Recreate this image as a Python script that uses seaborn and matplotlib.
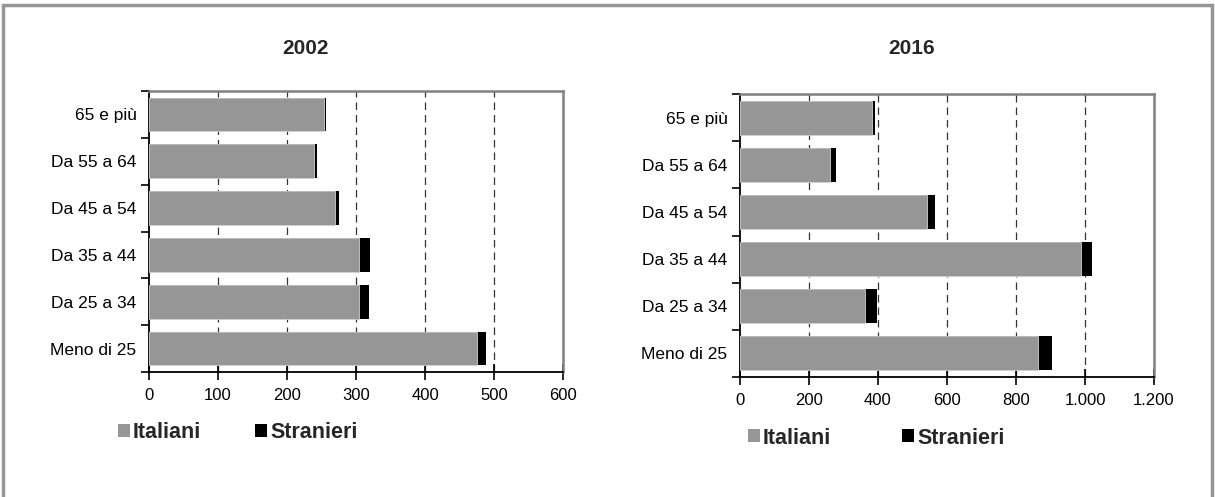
import matplotlib
matplotlib.use("Agg")
import matplotlib.pyplot as plt
import seaborn as sns
import pandas as pd
from matplotlib.patches import Patch, Rectangle
from matplotlib.ticker import FuncFormatter, FixedLocator

# age classes, top to bottom as drawn
classi = ["65 e più", "Da 55 a 64", "Da 45 a 54", "Da 35 a 44", "Da 25 a 34", "Meno di 25"]

italiani_2002 = [253, 239, 269, 304, 304, 475]
stranieri_2002 = [4, 5, 6, 17, 15, 13]

italiani_2016 = [383, 260, 541, 988, 362, 865]
stranieri_2016 = [8, 18, 24, 33, 36, 38]

xticks_2002 = [0, 100, 200, 300, 400, 500, 600]
xticks_2016 = [0, 200, 400, 600, 800, 1000, 1200]

GRIGIO = "#969696"
NERO = "#000000"

sns.set_theme(style="white")
plt.rcParams["font.family"] = ["Liberation Sans", "DejaVu Sans"]

fig = plt.figure(figsize=(12.15, 4.97), dpi=100)
W, H = 1215, 497


def fig_box(x0, y0, x1, y1):
    # pixel box -> figure fraction [left, bottom, width, height]
    return [x0 / W, 1 - y1 / H, (x1 - x0) / W, (y1 - y0) / H]


def draw_panel(ax, italiani, stranieri, ticks, fmt):
    df = pd.DataFrame({
        "classe": classi,
        "italiani": italiani,
        "totale": [a + b for a, b in zip(italiani, stranieri)],
    })
    ax.set_axisbelow(True)
    for t in ticks[1:-1]:
        ax.axvline(t, color="#333333", lw=0.9, ls=(0, (6, 4)), zorder=0)
    sns.barplot(data=df, y="classe", x="totale", color=NERO, width=0.72,
                saturation=1, order=classi, ax=ax, zorder=2, linewidth=0)
    sns.barplot(data=df, y="classe", x="italiani", color=GRIGIO, width=0.72,
                saturation=1, order=classi, ax=ax, zorder=3,
                edgecolor="#d0d0d0", linewidth=0.6)
    ax.set_xlim(ticks[0], ticks[-1])
    ax.set_ylim(len(classi) - 0.5, -0.5)
    ax.set_xticks(ticks)
    ax.xaxis.set_major_formatter(FuncFormatter(fmt))
    ax.set_xlabel("")
    ax.set_ylabel("")
    ax.yaxis.set_minor_locator(FixedLocator([i - 0.5 for i in range(len(classi) + 1)]))
    ax.tick_params(axis="y", which="major", length=0, pad=9, labelsize=12.5, colors="black")
    ax.tick_params(axis="y", which="minor", left=True, length=6, width=1.2, color="black")
    ax.tick_params(axis="x", which="major", bottom=True, direction="inout", length=11,
                   width=1.2, color="black", labelsize=12, pad=6, labelcolor="black")
    for side in ["left", "bottom"]:
        ax.spines[side].set_color("black")
        ax.spines[side].set_linewidth(1.3)
    for side in ["top", "right"]:
        ax.spines[side].set_visible(True)
        ax.spines[side].set_color("#808080")
        ax.spines[side].set_linewidth(1.8)
    ax.grid(False)


def fmt_2002(v, pos):
    return f"{int(v)}"


def fmt_2016(v, pos):
    return f"{int(v):,}".replace(",", ".")


ax1 = fig.add_axes(fig_box(149, 91, 563, 372))
draw_panel(ax1, italiani_2002, stranieri_2002, xticks_2002, fmt_2002)

ax2 = fig.add_axes(fig_box(740, 94, 1154, 377))
draw_panel(ax2, italiani_2016, stranieri_2016, xticks_2016, fmt_2016)

fig.text(306 / W, 1 - 49 / H, "2002", ha="center", va="center", fontsize=15, fontweight="bold")
fig.text(912 / W, 1 - 49 / H, "2016", ha="center", va="center", fontsize=15, fontweight="bold")

handles = [Patch(facecolor=GRIGIO, edgecolor="none", label="Italiani"),
           Patch(facecolor=NERO, edgecolor="none", label="Stranieri")]
leg_kw = dict(ncol=2, frameon=False, loc="center left", borderpad=0, borderaxespad=0,
              handlelength=0.55, handleheight=0.55, handletextpad=0.15,
              prop={"weight": "bold", "size": 15.5})
fig.legend(handles=handles, bbox_to_anchor=(118 / W, 1 - 433 / H),
           columnspacing=2.5, **leg_kw)
fig.legend(handles=handles, bbox_to_anchor=(748 / W, 1 - 438 / H),
           columnspacing=3.3, **leg_kw)

# outer grey frame of the original graphic
fig.patches.append(Rectangle((3 / W, -0.05), 1209 / W, 1.05 - 5 / H, transform=fig.transFigure,
                             fill=False, edgecolor="#969696", linewidth=2.5))

fig.savefig("out.png", dpi=100, facecolor="white")
